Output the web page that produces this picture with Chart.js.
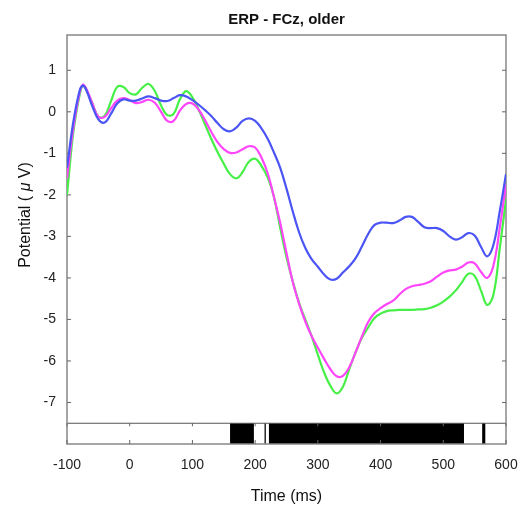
<!DOCTYPE html>
<html>
<head>
<meta charset="utf-8">
<script src="https://cdn.jsdelivr.net/npm/chart.js@4.4.1/dist/chart.umd.min.js"></script>
<style>
  html, body { margin: 0; padding: 0; background: #fff; }
  #wrap { width: 524px; height: 509px; }
</style>
</head>
<body>
<div id="wrap"><canvas id="erpChart" width="524" height="509"></canvas></div>
<script>
// time axis (ms)
var times = [-100, -90, -80, -75, -70, -60, -50, -40, -30, -20, -10, 0, 10, 20, 30, 40, 50, 60, 70, 80, 90,
  100, 110, 120, 130, 140, 150, 160, 170, 180, 190, 200, 210, 220, 230, 240, 250, 260, 270, 280, 290,
  300, 310, 320, 330, 340, 350, 360, 370, 380, 390, 400, 410, 420, 430, 440, 450, 460, 470, 480, 490,
  500, 510, 520, 530, 540, 550, 560, 570, 580, 590, 600];

// potentials (uV)
var blueErp = [-1.35, -0.25, 0.5, 0.63, 0.55, 0.15, -0.18, -0.26, -0.05, 0.2, 0.3, 0.27, 0.27, 0.32, 0.37, 0.33, 0.27, 0.26, 0.33, 0.4, 0.37,
  0.28, 0.17, 0.04, -0.1, -0.27, -0.42, -0.47, -0.38, -0.22, -0.16, -0.22, -0.4, -0.65, -0.98, -1.35, -1.85, -2.4, -2.9, -3.28, -3.55,
  -3.73, -3.92, -4.04, -4.02, -3.87, -3.72, -3.53, -3.25, -2.95, -2.73, -2.67, -2.67, -2.68, -2.62, -2.53, -2.53, -2.65, -2.78, -2.8, -2.8,
  -2.87, -3.0, -3.08, -3.02, -2.92, -2.98, -3.25, -3.48, -3.2, -2.4, -1.5];

var pinkErp = [-1.6, -0.4, 0.45, 0.65, 0.58, 0.22, -0.12, -0.12, 0.08, 0.27, 0.33, 0.28, 0.21, 0.24, 0.29, 0.22, 0.0, -0.22, -0.22, 0.03, 0.19,
  0.2, 0.05, -0.2, -0.48, -0.73, -0.9, -0.99, -0.98, -0.9, -0.83, -0.86, -1.1, -1.48, -2.05, -2.68, -3.4, -4.1, -4.62, -5.05, -5.4,
  -5.68, -5.95, -6.2, -6.37, -6.36, -6.15, -5.8, -5.42, -5.07, -4.85, -4.73, -4.63, -4.55, -4.4, -4.27, -4.2, -4.17, -4.14, -4.08, -3.97,
  -3.87, -3.82, -3.8, -3.73, -3.63, -3.65, -3.85, -4.0, -3.7, -2.8, -1.75];

var greenErp = [-2.0, -0.5, 0.4, 0.63, 0.55, 0.22, -0.12, -0.1, 0.25, 0.6, 0.6, 0.45, 0.42, 0.58, 0.67, 0.5, 0.15, -0.08, -0.05, 0.3, 0.5,
  0.35, 0.05, -0.3, -0.65, -0.97, -1.25, -1.5, -1.6, -1.45, -1.2, -1.13, -1.3, -1.58, -2.05, -2.8, -3.5, -4.08, -4.6, -5.0, -5.4,
  -5.85, -6.28, -6.6, -6.78, -6.62, -6.2, -5.8, -5.45, -5.2, -4.97, -4.86, -4.8, -4.78, -4.77, -4.77, -4.77, -4.76, -4.75, -4.72, -4.66,
  -4.57, -4.45, -4.3, -4.1, -3.9, -3.95, -4.3, -4.65, -4.4, -3.3, -2.1];

// tick labels
var xTicks = [-100, 0, 100, 200, 300, 400, 500, 600];
var yTicks = [-7, -6, -5, -4, -3, -2, -1, 0, 1];

// significant time windows (black bar at the bottom)
var sigStart = [160, 215, 222, 562];
var sigEnd = [198, 217, 533, 567];

function toPoints(vals) {
    return vals.map(function(v, i) { return { x: times[i], y: v }; });
}

var fontFam = '"Liberation Sans", Arial, Helvetica, sans-serif';

// frame, inner ticks, significance bar and y label
var framePlugin = {
    id: 'frame',
    beforeDatasetsDraw: function(chart) {
        var c = chart.ctx, a = chart.chartArea;
        var xs = chart.scales.x, ys = chart.scales.y;
        var barTop = ys.getPixelForValue(-7.5);
        c.save();
        // significance segments
        c.fillStyle = '#000';
        for (var i = 0; i < sigStart.length; i++) {
            var x0 = xs.getPixelForValue(sigStart[i]);
            var x1 = xs.getPixelForValue(sigEnd[i]);
            c.fillRect(x0, barTop, x1 - x0, a.bottom - barTop);
        }
        c.strokeStyle = '#555';
        c.lineWidth = 1.2;
        c.beginPath();
        c.moveTo(a.left, barTop);
        c.lineTo(a.right, barTop);
        c.stroke();
        // frame
        c.strokeStyle = '#888';
        c.lineWidth = 1.5;
        c.strokeRect(a.left, a.top, a.right - a.left, a.bottom - a.top);
        // y ticks, inward, both sides
        c.lineWidth = 1;
        c.strokeStyle = '#666';
        c.beginPath();
        yTicks.forEach(function(v) {
            var py = ys.getPixelForValue(v);
            c.moveTo(a.left, py); c.lineTo(a.left + 4, py);
            c.moveTo(a.right, py); c.lineTo(a.right - 4, py);
        });
        // x ticks inside the bar
        xTicks.forEach(function(v) {
            var px = xs.getPixelForValue(v);
            c.moveTo(px, barTop); c.lineTo(px, barTop + 3);
            c.moveTo(px, a.bottom); c.lineTo(px, a.bottom - 4);
        });
        c.stroke();
        c.restore();
    },
    afterDraw: function(chart) {
        var c = chart.ctx;
        c.save();
        c.translate(26, 215);
        c.rotate(-Math.PI / 2);
        c.fillStyle = '#111';
        c.textBaseline = 'middle';
        var f1 = '16px ' + fontFam, f2 = 'italic 16px ' + fontFam;
        var parts = [['Potential ( ', f1], ['\u03bc', f2], [' V)', f1]];
        var w = 0;
        parts.forEach(function(p) { c.font = p[1]; w += c.measureText(p[0]).width; });
        var x = -w / 2;
        parts.forEach(function(p) {
            c.font = p[1];
            c.fillText(p[0], x, 0);
            x += c.measureText(p[0]).width;
        });
        c.restore();
    }
};

var ctx = document.getElementById('erpChart').getContext('2d');
var erpChart = new Chart(ctx, {
    type: 'line',
    data: {
        datasets: [{
            label: 'blue',
            data: toPoints(blueErp),
            borderColor: 'rgb(75, 85, 245)',
            borderWidth: 2.2,
            pointRadius: 0,
            tension: 0.4,
            fill: false
        }, {
            label: 'magenta',
            data: toPoints(pinkErp),
            borderColor: 'rgb(255, 70, 250)',
            borderWidth: 2.2,
            pointRadius: 0,
            tension: 0.4,
            fill: false
        }, {
            label: 'green',
            data: toPoints(greenErp),
            borderColor: 'rgb(70, 240, 70)',
            borderWidth: 2.2,
            pointRadius: 0,
            tension: 0.4,
            fill: false
        }]
    },
    options: {
        responsive: false,
        animation: false,
        layout: { padding: { left: 0, right: 18, top: 0, bottom: 0 } },
        plugins: {
            legend: { display: false },
            tooltip: { enabled: false },
            title: {
                display: true,
                text: 'ERP - FCz, older',
                fullSize: false,
                color: '#111',
                font: { family: fontFam, size: 15, weight: 'bold' },
                padding: { top: 11, bottom: 6 }
            }
        },
        scales: {
            x: {
                type: 'linear',
                min: -100,
                max: 600,
                afterBuildTicks: function(s) { s.ticks = xTicks.map(function(v) { return { value: v }; }); },
                afterFit: function(s) { s.height = 65; s.paddingLeft = 0; s.paddingRight = 0; },
                ticks: { color: '#222', padding: 13, font: { family: fontFam, size: 14 } },
                grid: { display: false, drawTicks: false },
                border: { display: false },
                title: {
                    display: true,
                    text: 'Time (ms)',
                    color: '#111',
                    font: { family: fontFam, size: 16 },
                    padding: { top: 0, bottom: 3 }
                }
            },
            y: {
                min: -8,
                max: 1.85,
                afterBuildTicks: function(s) { s.ticks = yTicks.map(function(v) { return { value: v }; }); },
                afterFit: function(s) { s.width = 67; },
                ticks: { color: '#222', padding: 11, font: { family: fontFam, size: 14 } },
                grid: { display: false, drawTicks: false },
                border: { display: false }
            }
        }
    },
    plugins: [framePlugin]
});
</script>
</body>
</html>
